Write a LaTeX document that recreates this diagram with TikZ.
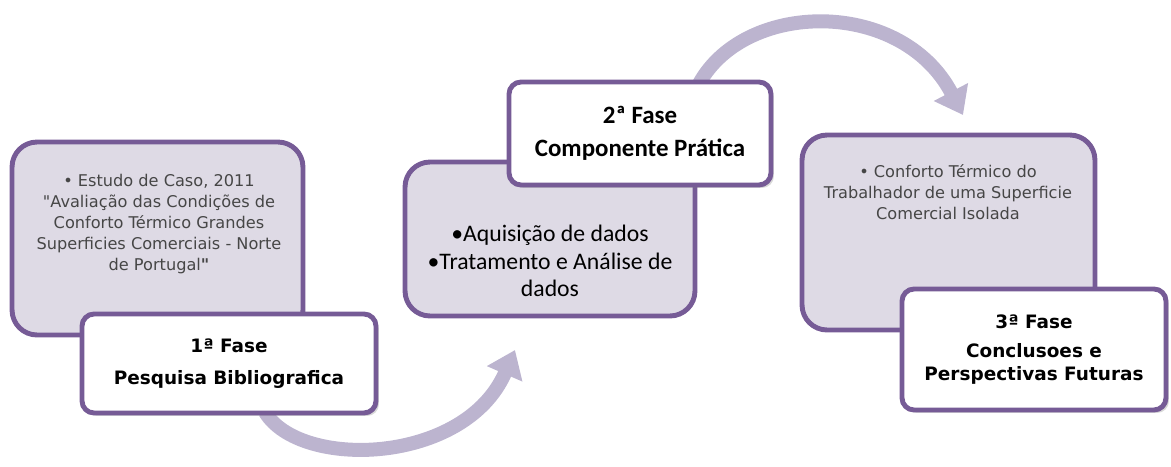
\documentclass[tikz,border=0pt]{standalone}
\usepackage{fontspec}
\setmainfont{DejaVu Sans}
\newfontfamily\calibri{Carlito}
\usepackage{tikz}
\usetikzlibrary{arrows.meta, positioning, shadows}

\definecolor{phaseline}{HTML}{765B96}
\definecolor{phasefill}{HTML}{DEDAE5}
\definecolor{flowcol}{HTML}{BCB4CF}
\definecolor{notegray}{HTML}{464646}

% straight double quote, kept out of the tex-text mapping
\newcommand{\straightquote}{\XeTeXglyph\XeTeXcharglyph"22\relax}

\begin{document}
\begin{tikzpicture}[x=0.02cm, y=-0.02cm,
            phase/.style={draw=phaseline,line width=2.8pt,fill=phasefill,rounded corners=0.5cm,inner sep=0pt},
            title/.style={draw=phaseline,line width=2.8pt,fill=white,rounded corners=0.24cm,align=center,
                drop shadow={opacity=0.3,shadow xshift=0.06cm,shadow yshift=-0.06cm}},
            note/.style={align=center,text=notegray,font=\fontsize{9.2}{11.9}\selectfont},
            flow/.style={line width=0.28cm,draw=flowcol,-{Triangle[width=0.74cm,length=0.52cm]}}
        ]
            \useasboundingbox (0,0) rectangle (1171,467);

            % Arrows
            \coordinate (f1s) at (265,412);
            \coordinate (f1e) at (515,350);
            \coordinate (f2s) at (695,92);
            \coordinate (f2e) at (963,115);
            \draw[flow] (f1s) .. controls (300,470) and (465,465) .. (f1e);
            \draw[flow] (f2s) .. controls (735,0) and (900,-5) .. (f2e);

            % Phase boxes
            \node[phase,minimum width=5.82cm,minimum height=3.86cm] (b1) at (157.5,238.5) {};
            \node[phase,minimum width=5.8cm,minimum height=3.08cm] (b2) at (550,239) {};
            \node[phase,minimum width=5.86cm,minimum height=3.9cm] (b3) at (948.5,232.5) {};

            % Box texts
            \node[note] (n1) at (159,224) {• Estudo de Caso, 2011\\ \straightquote Avaliação das Condições de\\ Conforto Térmico Grandes\\ Superficies Comerciais - Norte\\ de Portugal\textbf{\straightquote}};
            \node[align=center,font=\calibri\fontsize{13.5}{15.5}\selectfont] (n2) at (550,261) {•Aquisição de dados\\ •Tratamento e Análise de\\ dados};
            \node[note] (n3) at (948,192) {• Conforto Térmico do\\ Trabalhador de uma Superficie\\ Comercial Isolada};

            % Titles
            \node[title,minimum width=5.88cm,minimum height=1.98cm,font=\bfseries\fontsize{10.5}{13}\selectfont] (p1) at (229,363.5) {1ª Fase\\[5pt] Pesquisa Bibliografica};
            \node[title,minimum width=5.24cm,minimum height=2.06cm,font=\calibri\bfseries\fontsize{14.2}{17}\selectfont] (p2) at (640,133.5) {2ª Fase\\[2pt] Componente Prática};
            \node[title,minimum width=5.28cm,minimum height=2.42cm,font=\bfseries\fontsize{10.5}{13}\selectfont] (p3) at (1034,349.5) {3ª Fase\\[4pt] Conclusoes e\\ Perspectivas Futuras};
        \end{tikzpicture}
\end{document}
